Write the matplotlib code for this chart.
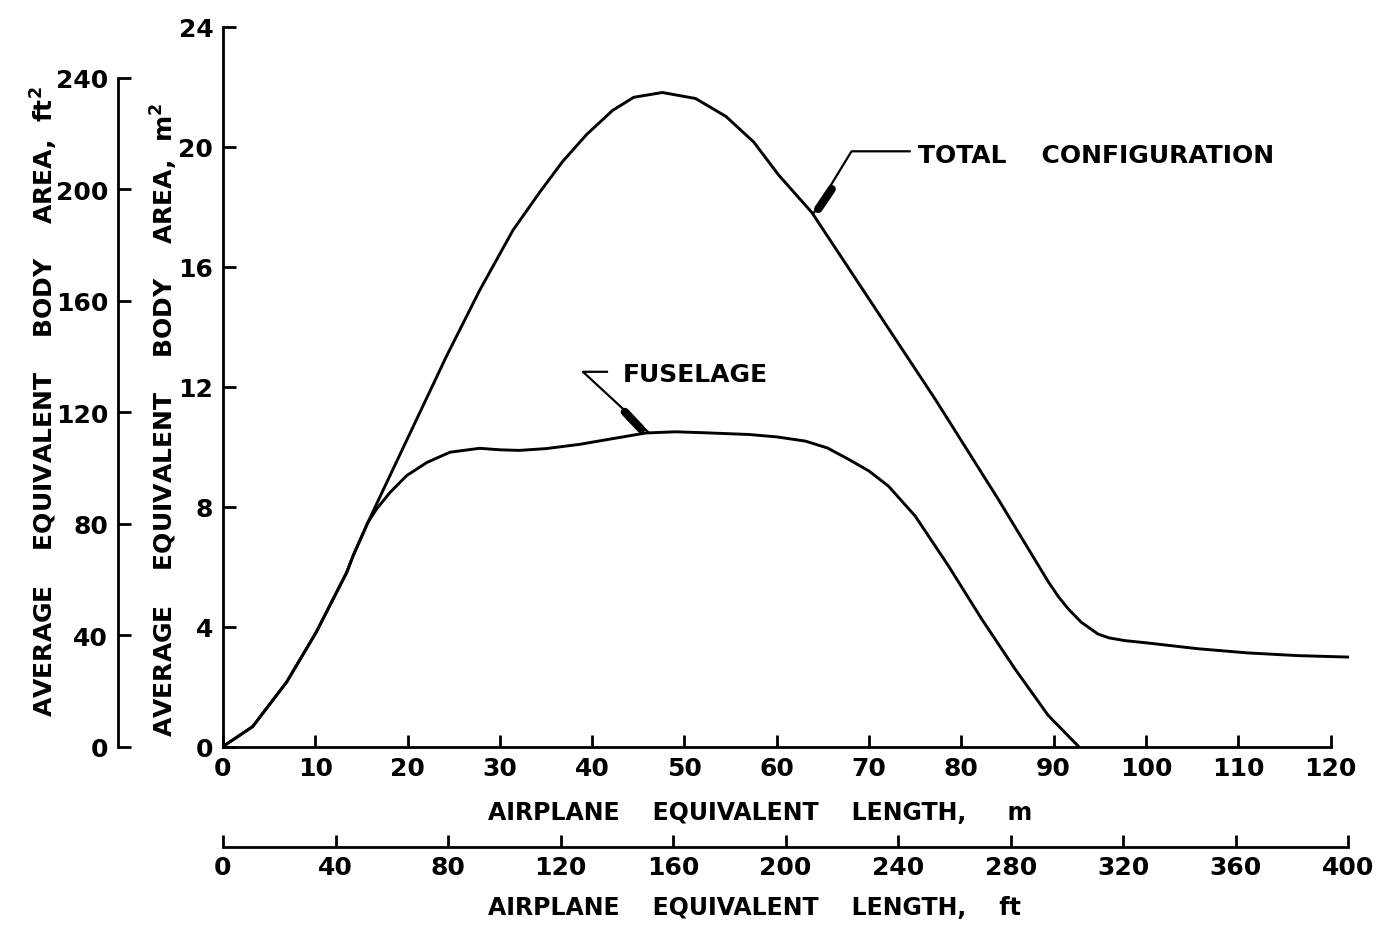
import matplotlib
matplotlib.use('Agg')
import matplotlib.pyplot as plt

plt.rcParams['font.family'] = ['DejaVu Sans']
plt.rcParams['font.weight'] = 'bold'
plt.rcParams['mathtext.fontset'] = 'dejavusans'
plt.rcParams['mathtext.default'] = 'bf'

# total configuration, length (m) vs area (m^2)
total_x = [0, 3.2, 6.9, 10.1, 13.4, 14.1, 15.7, 17.4, 21.0, 24.2, 27.8, 31.4, 34.3,
           36.8, 39.4, 42.2, 44.5, 47.6, 51.2, 54.5, 57.5, 60.2, 63.8, 69.6, 77.2,
           84.0, 89.4, 90.5, 91.6, 93.0, 94.8, 96.0, 97.7, 100.2, 105.6, 111.0,
           116.4, 122.0]
total_y = [0, 0.66, 2.15, 3.81, 5.8, 6.36, 7.47, 8.58, 10.92, 13.0, 15.2, 17.2, 18.47,
           19.5, 20.4, 21.2, 21.64, 21.8, 21.6, 21.0, 20.15, 19.05, 17.8, 15.1, 11.56,
           8.24, 5.5, 5.0, 4.58, 4.14, 3.75, 3.62, 3.53, 3.45, 3.26, 3.12,
           3.03, 2.98]

# fuselage
fus_x = [0, 3.2, 6.9, 10.1, 13.4, 14.1, 15.7, 16.65, 18.1, 19.9, 22.1, 24.6, 27.8,
         30.0, 32.1, 35.0, 38.6, 42.0, 45.8, 49.0, 52.0, 57.0, 60.0, 63.1, 65.5,
         67.8, 70.0, 72.1, 75.0, 78.6, 82.2, 85.8, 89.4, 92.7]
fus_y = [0, 0.66, 2.15, 3.81, 5.8, 6.36, 7.47, 7.92, 8.47, 9.03, 9.47, 9.81, 9.94,
         9.89, 9.87, 9.93, 10.07, 10.25, 10.45, 10.49, 10.46, 10.4, 10.32, 10.18, 9.95,
         9.57, 9.18, 8.68, 7.68, 6.02, 4.25, 2.59, 1.04, 0]

m_ticks = list(range(0, 121, 10))
ft_ticks = list(range(0, 401, 40))
m2_ticks = list(range(0, 25, 4))
ft2_ticks = list(range(0, 241, 40))

M_TO_FT = 1 / 0.3048
M2_TO_FT2 = M_TO_FT ** 2

fig = plt.figure(figsize=(13.88, 9.28), dpi=100)
ax = fig.add_axes([223 / 1388, (928 - 747.5) / 928, 1126 / 1388, 720 / 928])

lw = 2.1
ax.plot(total_x, total_y, color='black', lw=lw, solid_capstyle='round',
        solid_joinstyle='round')
ax.plot(fus_x, fus_y, color='black', lw=lw, solid_capstyle='round',
        solid_joinstyle='round')
ax.set_xlim(0, 122)
ax.set_ylim(0, 24)

for s in ['top', 'right']:
    ax.spines[s].set_visible(False)
ax.spines['left'].set_bounds(0, 24)
ax.spines['bottom'].set_bounds(0, 120)
for s in ['left', 'bottom']:
    ax.spines[s].set_linewidth(2)
ax.set_xticks(m_ticks)
ax.set_yticks(m2_ticks)
ax.tick_params(direction='in', length=9, width=2, labelsize=18, pad=7)
ax.set_xlabel('AIRPLANE    EQUIVALENT    LENGTH,     m', fontsize=17,
              fontweight='bold')
ax.xaxis.set_label_coords((760 - 223) / 1126, -(801 - 747.5) / 720)
ax.set_ylabel('AVERAGE    EQUIVALENT    BODY    AREA,  m$^2$', fontsize=18,
              fontweight='bold')
ax.yaxis.set_label_coords(-(223 - 180) / 1126, 0.455)

# ft^2 axis on the far left
ax2 = ax.twinx()
ax2.set_ylim(0, 24 * M2_TO_FT2)
for s in ['top', 'right', 'bottom']:
    ax2.spines[s].set_visible(False)
ax2.spines['left'].set_visible(True)
ax2.spines['left'].set_position(('axes', (118 - 223) / 1126))
ax2.spines['left'].set_bounds(0, 240)
ax2.spines['left'].set_linewidth(2)
ax2.yaxis.set_ticks_position('left')
ax2.yaxis.set_label_position('left')
ax2.set_yticks(ft2_ticks)
ax2.tick_params(direction='in', length=9, width=2, labelsize=18, pad=7)
ax2.set_ylabel('AVERAGE    EQUIVALENT    BODY    AREA,  ft$^2$', fontsize=18,
               fontweight='bold')
ax2.yaxis.set_label_coords(-(223 - 60) / 1126, 0.48)

# ft axis below
ax3 = ax.twiny()
ax3.set_xlim(0, 122 * M_TO_FT)
for s in ['top', 'right', 'left']:
    ax3.spines[s].set_visible(False)
ax3.spines['bottom'].set_visible(True)
ax3.spines['bottom'].set_position(('axes', -(848 - 747.5) / 720))
ax3.spines['bottom'].set_bounds(0, 400)
ax3.spines['bottom'].set_linewidth(2)
ax3.xaxis.set_ticks_position('bottom')
ax3.xaxis.set_label_position('bottom')
ax3.set_xticks(ft_ticks)
ax3.tick_params(direction='in', length=9, width=2, labelsize=18, pad=6)
ax3.set_xlabel('AIRPLANE    EQUIVALENT    LENGTH,    ft', fontsize=17,
               fontweight='bold')
ax3.xaxis.set_label_coords((754 - 223) / 1126, -(896 - 747.5) / 720)

# leaders
ax.plot([74.4, 68.1, 63.95], [19.84, 19.84, 17.75], color='black', lw=1.6)
ax.plot([65.95, 64.5], [18.58, 17.92], color='black', lw=6, solid_capstyle='round')
ax.text(75.3, 19.72, 'TOTAL    CONFIGURATION', fontsize=18, fontweight='bold',
        va='center', ha='left')

ax.plot([41.6, 39.0, 46.1], [12.49, 12.49, 10.47], color='black', lw=1.6)
ax.plot([43.55, 45.3], [11.15, 10.58], color='black', lw=6, solid_capstyle='round')
ax.text(43.3, 12.42, 'FUSELAGE', fontsize=18, fontweight='bold',
        va='center', ha='left')

fig.savefig('out.png', dpi=100)
